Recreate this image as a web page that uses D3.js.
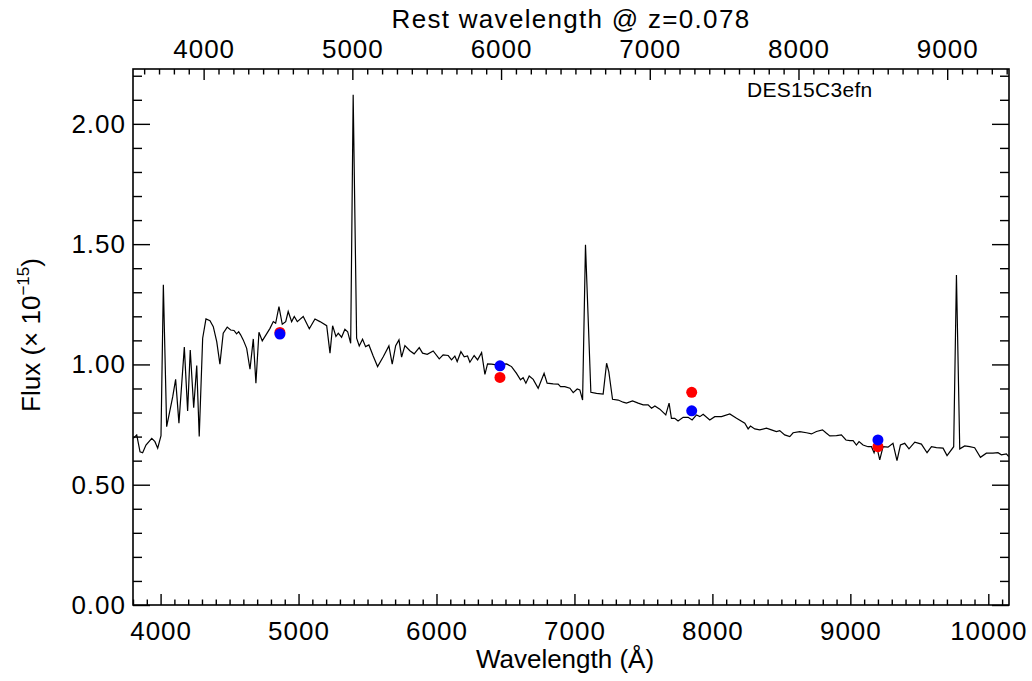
<!DOCTYPE html>
<html>
<head>
<meta charset="utf-8">
<script src="https://cdn.jsdelivr.net/npm/d3@7"></script>
<style>
  body { margin: 0; background: #fff; }
  text { font-family: "Liberation Sans", Arial, Helvetica, sans-serif; fill: #000; }
</style>
</head>
<body>
<div id="chart"></div>
<script>
const wave = [3802, 3827, 3851, 3870, 3894, 3936, 3959, 3979, 4003, 4020, 4044, 4088, 4109, 4133, 4172, 4196,
  4215, 4240, 4262, 4280, 4305, 4329, 4358, 4382, 4407, 4430, 4454, 4483, 4508, 4532, 4551, 4566,
  4580, 4599, 4624, 4648, 4672, 4691, 4713, 4737, 4764, 4793, 4817, 4834, 4858, 4882, 4907, 4925,
  4950, 4969, 4991, 5034, 5078, 5119, 5155, 5204, 5228, 5247, 5271, 5288, 5312, 5336, 5356, 5378,
  5396, 5421, 5440, 5464, 5486, 5510, 5541, 5573, 5614, 5655, 5679, 5704, 5728, 5747, 5771, 5807,
  5838, 5875, 5899, 5933, 5976, 6020, 6048, 6085, 6109, 6133, 6150, 6177, 6201, 6225, 6242, 6273,
  6298, 6327, 6351, 6370, 6399, 6435, 6508, 6544, 6580, 6609, 6628, 6648, 6672, 6701, 6737, 6780,
  6802, 6846, 6882, 6899, 6930, 6967, 6991, 7020, 7039, 7059, 7080, 7119, 7160, 7208, 7233, 7249,
  7276, 7317, 7353, 7377, 7421, 7462, 7498, 7534, 7559, 7583, 7619, 7662, 7686, 7703, 7727, 7751,
  7788, 7824, 7853, 7885, 7909, 7933, 7981, 8017, 8066, 8126, 8175, 8235, 8259, 8276, 8307, 8343,
  8392, 8428, 8464, 8488, 8524, 8561, 8585, 8633, 8682, 8718, 8754, 8798, 8827, 8851, 8899, 8935,
  8968, 8996, 9020, 9044, 9063, 9092, 9128, 9153, 9172, 9189, 9213, 9237, 9273, 9309, 9338, 9363,
  9394, 9425, 9467, 9515, 9556, 9588, 9624, 9672, 9701, 9749, 9769, 9793, 9829, 9865, 9901, 9943,
  9986, 10034, 10070, 10095, 10131, 10148]
const flux = [0.693, 0.707, 0.637, 0.633, 0.665, 0.693, 0.679, 0.652, 0.704, 1.331, 0.741, 0.866, 0.938, 0.756, 1.072, 0.807,
  1.060, 0.820, 0.995, 0.700, 1.109, 1.189, 1.182, 1.157, 1.095, 1.001, 1.130, 1.155, 1.143, 1.141, 1.127, 1.136,
  1.123, 1.102, 1.067, 0.980, 1.106, 0.922, 1.134, 1.098, 1.123, 1.150, 1.178, 1.171, 1.240, 1.167, 1.178, 1.220,
  1.178, 1.199, 1.178, 1.199, 1.148, 1.189, 1.178, 1.161, 1.047, 1.161, 1.116, 1.130, 1.113, 1.146, 1.136, 1.088,
  2.121, 1.109, 1.077, 1.105, 1.074, 1.081, 1.035, 0.991, 1.032, 1.077, 1.001, 1.078, 1.102, 1.030, 1.078, 1.057,
  1.044, 1.070, 1.047, 1.042, 1.056, 1.023, 1.040, 1.037, 1.019, 1.035, 1.012, 1.053, 1.032, 1.035, 1.009, 1.037,
  1.019, 1.049, 0.959, 1.002, 1.001, 0.998, 1.002, 0.991, 0.963, 0.936, 0.945, 0.922, 0.952, 0.938, 0.901, 0.963,
  0.922, 0.919, 0.918, 0.908, 0.908, 0.901, 0.883, 0.898, 0.894, 0.852, 1.497, 0.884, 0.880, 0.877, 1.005, 0.970,
  0.855, 0.852, 0.843, 0.839, 0.848, 0.839, 0.832, 0.832, 0.818, 0.827, 0.814, 0.790, 0.839, 0.776, 0.776, 0.765,
  0.780, 0.780, 0.769, 0.790, 0.783, 0.793, 0.769, 0.783, 0.783, 0.794, 0.776, 0.756, 0.732, 0.744, 0.732, 0.728,
  0.735, 0.728, 0.721, 0.725, 0.707, 0.700, 0.716, 0.721, 0.716, 0.711, 0.721, 0.728, 0.714, 0.703, 0.704, 0.707,
  0.686, 0.683, 0.683, 0.665, 0.679, 0.665, 0.658, 0.658, 0.633, 0.665, 0.603, 0.658, 0.656, 0.672, 0.600, 0.665,
  0.672, 0.649, 0.677, 0.669, 0.633, 0.658, 0.654, 0.652, 0.621, 0.658, 1.372, 0.649, 0.661, 0.658, 0.654, 0.614,
  0.631, 0.631, 0.633, 0.624, 0.628, 0.617]

// photometry points (griz)
const photWave = [4865, 6460, 7850, 9200]
const photRed = [1.133, 0.946, 0.884, 0.658]
const photBlue = [1.126, 0.994, 0.807, 0.686]

const obsTicks = [4000, 5000, 6000, 7000, 8000, 9000, 10000]
const restTicks = [4000, 5000, 6000, 7000, 8000, 9000]
const fluxTicks = [0, 0.5, 1.0, 1.5, 2.0]

const redshift = 0.078
const objName = "DES15C3efn"

var margin = {top: 69, right: 23, bottom: 76, left: 133},
    width = 1032 - margin.left - margin.right,
    height = 681 - margin.top - margin.bottom;

var svg = d3.select("#chart").append("svg")
    .attr("width", 1032)
    .attr("height", 681)

var g = svg.append("g").attr("transform", "translate(" + margin.left + "," + margin.top + ")")

var xScale = d3.scaleLinear().domain([3800, 10150]).range([0, width])
var restScale = d3.scaleLinear().domain([3800 / (1 + redshift), 10150 / (1 + redshift)]).range([0, width])
var yScale = d3.scaleLinear().domain([0, 2.228]).range([height, 0])

// ---- minor ticks ----
const notMajor = (majors) => v => !majors.some(m => Math.abs(m - v) < 1e-6)
var obsMinor = d3.range(3800, 10151, 100).filter(notMajor(obsTicks))
var restMinor = d3.range(3600, 9401, 100).filter(notMajor(restTicks))
var fluxMinor = d3.range(0, 23).map(i => +(i * 0.1).toFixed(1)).filter(notMajor(fluxTicks))

function drawAxis(axis, transform) {
  var a = g.append("g").attr("class", "axis").attr("transform", transform).call(axis)
  a.select(".domain").remove()
  a.selectAll("line").attr("stroke", "#000").attr("stroke-width", 1.4)
  a.selectAll("text")
    .attr("font-size", "26px")
    .attr("letter-spacing", "1px")
    .attr("fill", "#000")
    .attr("font-family", null)
  return a
}

// bottom
drawAxis(d3.axisBottom(xScale).tickValues(obsMinor).tickSize(-5.5).tickFormat(""), `translate(0,${height})`)
drawAxis(d3.axisBottom(xScale).tickValues(obsTicks).tickSize(-11).tickPadding(17).tickFormat(d3.format("d")), `translate(0,${height})`)
// top (rest frame)
drawAxis(d3.axisTop(restScale).tickValues(restMinor).tickSize(-5.5).tickFormat(""), "translate(0,0)")
drawAxis(d3.axisTop(restScale).tickValues(restTicks).tickSize(-11).tickPadding(11).tickFormat(d3.format("d")), "translate(0,0)")
// left
drawAxis(d3.axisLeft(yScale).tickValues(fluxMinor).tickSize(-9).tickFormat(""), "translate(0,0)")
drawAxis(d3.axisLeft(yScale).tickValues(fluxTicks).tickSize(-17).tickPadding(7).tickFormat(d3.format(".2f")), "translate(0,0)")
// right
drawAxis(d3.axisRight(yScale).tickValues(fluxMinor).tickSize(-9).tickFormat(""), `translate(${width},0)`)
drawAxis(d3.axisRight(yScale).tickValues(fluxTicks).tickSize(-17).tickFormat(""), `translate(${width},0)`)

g.append("rect")
  .attr("width", width).attr("height", height)
  .attr("fill", "none").attr("stroke", "#000").attr("stroke-width", 1.6)

// ---- spectrum ----
g.append("clipPath").attr("id", "clip").append("rect").attr("width", width).attr("height", height)

var line = d3.line()
    .x((d, i) => xScale(wave[i]))
    .y(d => yScale(d))

g.append("path")
  .attr("clip-path", "url(#clip)")
  .attr("d", line(flux))
  .attr("fill", "none")
  .attr("stroke", "#000")
  .attr("stroke-width", 1.2)

// ---- photometry ----
g.selectAll(".red").data(photWave).enter().append("circle")
  .attr("cx", d => xScale(d))
  .attr("cy", (d, i) => yScale(photRed[i]))
  .attr("r", 5.5)
  .attr("fill", "#ff0000")
g.selectAll(".blue").data(photWave).enter().append("circle")
  .attr("cx", d => xScale(d))
  .attr("cy", (d, i) => yScale(photBlue[i]))
  .attr("r", 5.5)
  .attr("fill", "#0000ff")

// ---- labels ----
g.append("text")
  .attr("x", 614).attr("y", 28)
  .attr("font-size", "21px")
  .attr("letter-spacing", "0.3px")
  .text(objName)

svg.append("text")
  .attr("x", margin.left + width / 2).attr("y", 28)
  .attr("text-anchor", "middle")
  .attr("font-size", "26px")
  .attr("letter-spacing", "1.3px")
  .text("Rest wavelength @ z=" + redshift.toFixed(3))

svg.append("text")
  .attr("x", 565).attr("y", 668)
  .attr("text-anchor", "middle")
  .attr("font-size", "26px")
  .text("Wavelength (Å)")

var yt = svg.append("text")
  .attr("transform", "translate(40,335) rotate(-90)")
  .attr("text-anchor", "middle")
  .attr("font-size", "26px")
yt.append("tspan").text("Flux (× 10")
yt.append("tspan").attr("font-size", "17px").attr("dy", "-11").text("−15")
yt.append("tspan").attr("dy", "11").text(")")
</script>
</body>
</html>
